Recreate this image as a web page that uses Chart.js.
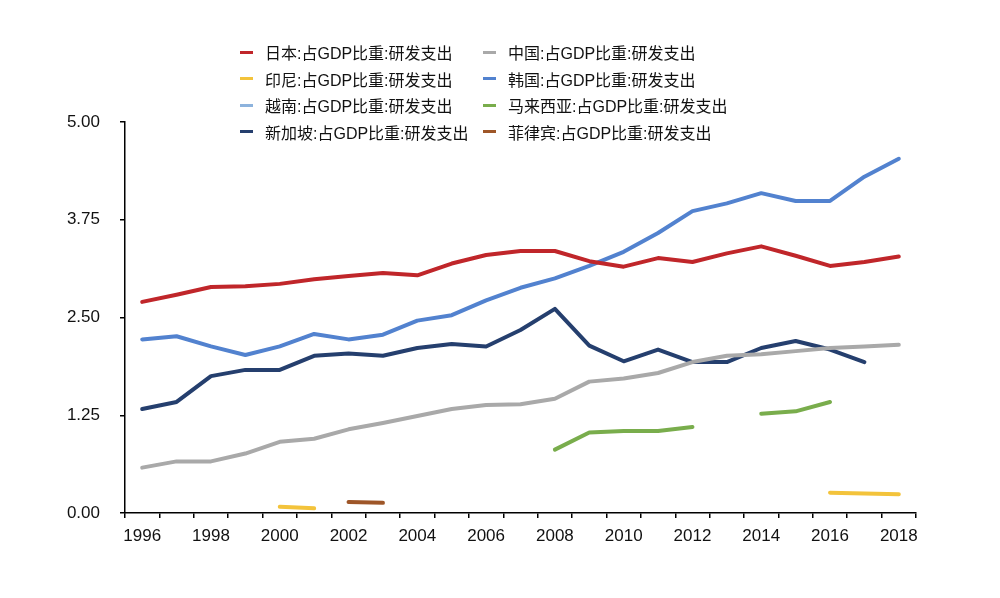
<!DOCTYPE html>
<html>
<head>
<meta charset="utf-8">
<script src="https://cdn.jsdelivr.net/npm/chart.js@4/dist/chart.umd.min.js"></script>
<style>
    body { margin: 0; background: #fff; }
    #wrap { position: relative; width: 1000px; height: 598px; }
    #legenda {
        position: absolute; left: 240px; top: 42px;
        display: grid; grid-template-columns: 243px 260px; row-gap: 6px;
        font-family: "Liberation Sans", "Noto Sans CJK SC", sans-serif; font-size: 16px; color: #111;
    }
    .item { display: flex; align-items: center; height: 20.5px; white-space: nowrap; }
    .marca { width: 13px; height: 3px; margin-right: 12px; }
</style>
</head>
<body>
<div id="wrap">
    <canvas id="grafico" width="1000" height="598"></canvas>
    <div id="legenda"></div>
</div>
<script>
const anos = ["1996","1997","1998","1999","2000","2001","2002","2003","2004","2005","2006","2007",
    "2008","2009","2010","2011","2012","2013","2014","2015","2016","2017","2018"];
const ticksY = [0, 1.25, 2.5, 3.75, 5];

const japao = [2.70,2.79,2.89,2.90,2.93,2.99,3.03,3.07,3.04,3.19,3.30,3.35,3.35,3.22,3.15,3.26,3.21,3.32,3.41,3.29,3.16,3.21,3.28];
const china = [0.58,0.66,0.66,0.76,0.91,0.95,1.07,1.15,1.24,1.33,1.38,1.39,1.46,1.68,1.72,1.79,1.93,2.01,2.03,2.07,2.11,2.13,2.15];
const indonesia = [null,null,null,null,0.08,0.06,null,null,null,null,null,null,null,null,null,null,null,null,null,null,0.26,0.25,0.24];
const coreia = [2.22,2.26,2.13,2.02,2.13,2.29,2.22,2.28,2.46,2.53,2.72,2.88,3.00,3.16,3.34,3.58,3.86,3.96,4.09,3.99,3.99,4.30,4.53];
const vietna = anos.map(() => null);
const malasia = [null,null,null,null,null,null,null,null,null,null,null,null,0.81,1.03,1.05,1.05,1.10,null,1.27,1.30,1.42,null,null];
const singapura = [1.33,1.42,1.75,1.83,1.83,2.01,2.04,2.01,2.11,2.16,2.13,2.34,2.61,2.14,1.94,2.09,1.93,1.93,2.11,2.20,2.09,1.93,null];
const filipinas = [null,null,null,null,null,null,0.14,0.13,null,null,null,null,null,null,null,null,null,null,null,null,null,null,null];

const series = [
    { nome: "日本:占GDP比重:研发支出", dados: japao, cor: "#c0262a" },
    { nome: "中国:占GDP比重:研发支出", dados: china, cor: "#a9a9a9" },
    { nome: "印尼:占GDP比重:研发支出", dados: indonesia, cor: "#f3c33b" },
    { nome: "韩国:占GDP比重:研发支出", dados: coreia, cor: "#5282cf" },
    { nome: "越南:占GDP比重:研发支出", dados: vietna, cor: "#8db3dd" },
    { nome: "马来西亚:占GDP比重:研发支出", dados: malasia, cor: "#79ad4c" },
    { nome: "新加坡:占GDP比重:研发支出", dados: singapura, cor: "#253f6e" },
    { nome: "菲律宾:占GDP比重:研发支出", dados: filipinas, cor: "#9e5628" }
];

function montarLegenda() {
    const legenda = document.querySelector("#legenda");
    series.forEach(s => {
        const item = document.createElement("div");
        item.className = "item";
        item.innerHTML = `<span class="marca" style="background:${s.cor}"></span><span>${s.nome}</span>`;
        legenda.appendChild(item);
    });
}

function criarGrafico(ctx) {
    return new Chart(ctx, {
        type: "line",
        data: {
            labels: anos,
            datasets: series.map(s => ({
                label: s.nome,
                data: s.dados,
                borderColor: s.cor,
                backgroundColor: s.cor,
                borderWidth: 4,
                borderCapStyle: "round",
                borderJoinStyle: "round",
                pointRadius: 0,
                tension: 0,
                spanGaps: false
            }))
        },
        options: {
            responsive: false,
            animation: false,
            layout: { padding: { left: 60, right: 84, top: 122, bottom: 45 } },
            plugins: { legend: { display: false }, tooltip: { enabled: false } },
            scales: {
                x: {
                    type: "category",
                    offset: true,
                    afterFit: s => { s.height = 40; },
                    border: { color: "#000", width: 1.5 },
                    grid: { offset: true, drawOnChartArea: false, color: "#000", lineWidth: 1.5, tickLength: 5 },
                    ticks: {
                        autoSkip: false, maxRotation: 0, padding: 8, color: "#111",
                        font: { family: "Liberation Sans", size: 17 },
                        callback: (v, i) => (i % 2 === 0 ? anos[i] : "")
                    }
                },
                y: {
                    min: 0, max: 5,
                    afterFit: s => { s.width = 65; },
                    afterBuildTicks: s => { s.ticks = ticksY.map(v => ({ value: v })); },
                    border: { color: "#000", width: 1.5 },
                    grid: { drawOnChartArea: false, color: "#000", lineWidth: 1.5, tickLength: 5 },
                    ticks: {
                        padding: 20, color: "#111",
                        font: { family: "Liberation Sans", size: 17 },
                        callback: v => v.toFixed(2)
                    }
                }
            }
        }
    });
}

montarLegenda();
criarGrafico(document.querySelector("#grafico"));
</script>
</body>
</html>
